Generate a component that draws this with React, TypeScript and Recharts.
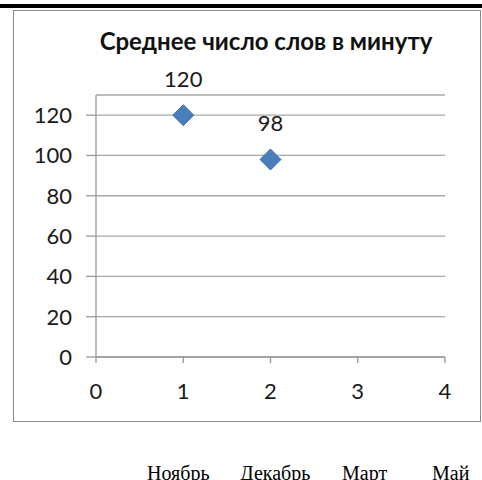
import React from "react"
import { CartesianGrid, LabelList, Scatter, ScatterChart, XAxis, YAxis } from "recharts"

const title = "Среднее число слов в минуту"
const xValues = [1, 2]
const wordsPerMinute = [120, 98]
const xTicks = [0, 1, 2, 3, 4]
const yTicks = [0, 20, 40, 60, 80, 100, 120]
const months = ["Ноябрь", "Декабрь", "Март", "Май"]
const monthX = [147, 240, 342, 432]

const data = xValues.map((x, i) => ({ x, y: wordsPerMinute[i] }))

const font = "Lato, 'Open Sans', sans-serif"

function Diamond(props: any) {
  const { cx, cy } = props
  const r = 10.5
  return (
    <path
      d={`M${cx},${cy - r} L${cx + r},${cy} L${cx},${cy + r} L${cx - r},${cy} Z`}
      fill="#4a7ebb"
      stroke="#416fa6"
      strokeWidth={1}
      strokeLinejoin="round"
    />
  )
}

export default function App() {
  return (
    <div style={{ position: "fixed", left: 0, top: 0, width: 482, height: 480, background: "#fff", overflow: "hidden" }}>
      <div style={{ position: "absolute", left: 0, top: 4, width: 482, height: 4, background: "#000" }} />
      <div
        style={{
          position: "absolute",
          left: 13,
          top: 10,
          width: 468,
          height: 412,
          border: "1.5px solid #8a8a8a",
          boxSizing: "border-box",
        }}
      />
      <svg width={482} height={480} style={{ position: "absolute", left: 0, top: 0 }}>
        <text x={266} y={50} textAnchor="middle" fontFamily={font} fontWeight="bold" fontSize={24} fill="#111">
          {title}
        </text>
        {months.map((m, i) => (
          <text key={m} x={monthX[i]} y={480} fontFamily="'Liberation Serif', 'Times New Roman', serif" fontSize={20} fill="#000">
            {m}
          </text>
        ))}
      </svg>
      <div style={{ position: "absolute", left: 0, top: 0 }}>
        <ScatterChart width={482} height={480} margin={{ top: 95, right: 37, bottom: 83, left: 0 }}>
          <CartesianGrid vertical={false} stroke="#a8a8a8" strokeWidth={1.3} />
          <XAxis
            type="number"
            dataKey="x"
            domain={[0, 4]}
            ticks={xTicks}
            height={40}
            tickSize={6}
            tickMargin={20}
            stroke="#9a9a9a"
            strokeWidth={1.3}
            tick={{ fontFamily: font, fontSize: 22, fill: "#1a1a1a" }}
          />
          <YAxis
            type="number"
            dataKey="y"
            domain={[0, 130]}
            ticks={yTicks}
            width={96}
            tickSize={10}
            tickMargin={14}
            stroke="#9a9a9a"
            strokeWidth={1.3}
            tick={{ fontFamily: font, fontSize: 22, fill: "#1a1a1a" }}
          />
          <Scatter data={data} shape={<Diamond />} isAnimationActive={false}>
            <LabelList dataKey="y" position="top" offset={24} fontFamily={font} fontSize={22} fill="#1a1a1a" />
          </Scatter>
        </ScatterChart>
      </div>
    </div>
  )
}
